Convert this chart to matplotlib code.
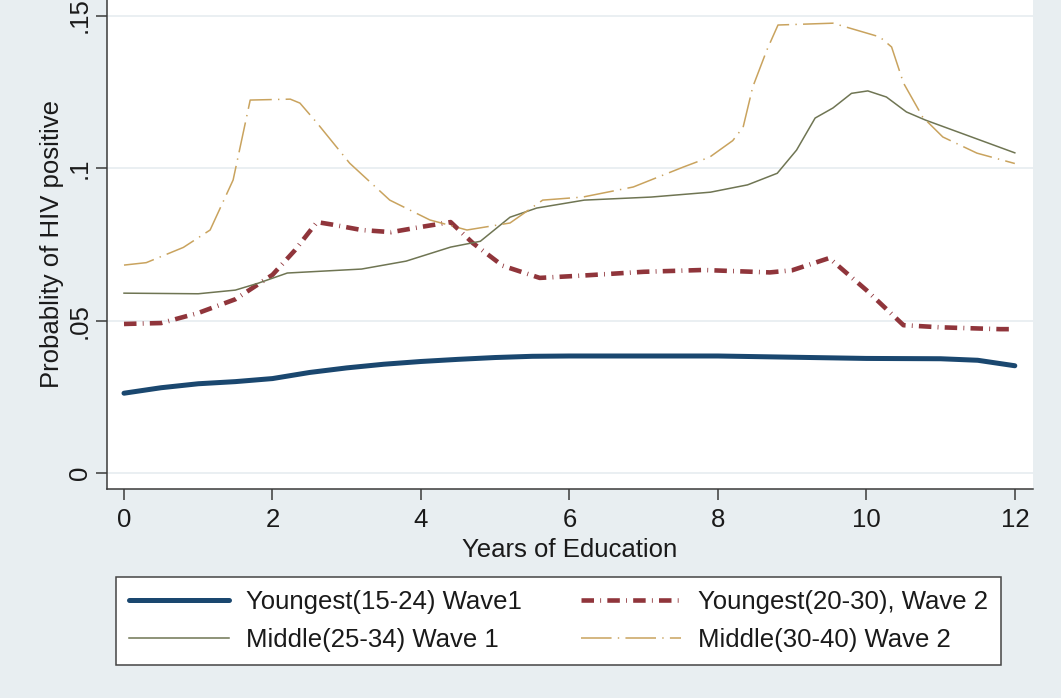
import matplotlib
matplotlib.use("Agg")
import matplotlib.pyplot as plt

plt.rcParams['font.family'] = ['Liberation Sans', 'DejaVu Sans']
plt.rcParams['lines.scale_dashes'] = False

# smoothed predicted probabilities by years of education
educ_w1_young = [0, 0.5, 1, 1.5, 2, 2.5, 3, 3.5, 4, 4.5, 5, 5.5, 6, 7, 8, 9, 10, 11, 11.5, 12]
p_w1_young = [.0262, .0280, .0293, .0300, .0310, .0330, .0345, .0357, .0366, .0373,
              .0379, .0383, .0384, .0384, .0384, .0380, .0376, .0375, .0370, .0352]

educ_w2_young = [0, 0.5, 1, 1.5, 2, 2.3, 2.6, 2.8, 3.2, 3.6, 4.0, 4.4, 4.7, 5.1, 5.6, 6.2,
                 7.0, 7.8, 8.7, 9.0, 9.5, 10.0, 10.5, 11.0, 11.8, 12]
p_w2_young = [.0489, .0492, .0525, .0570, .0650, .0730, .0823, .0815, .0797, .0790, .0807,
              .0823, .0754, .0680, .0640, .0648, .0660, .0666, .0658, .0665, .0705, .0600,
              .0485, .0478, .0472, .0472]

educ_w1_mid = [0, 1, 1.5, 1.8, 2.2, 3.2, 3.8, 4.4, 4.8, 5.2, 5.56, 6.2, 7.1, 7.9, 8.4, 8.8,
               9.06, 9.31, 9.55, 9.8, 10.02, 10.27, 10.54, 10.8, 11.35, 12]
p_w1_mid = [.0590, .0588, .0600, .0622, .0656, .0669, .0695, .0741, .0760, .0839, .0869,
            .0895, .0905, .0921, .0945, .0983, .1059, .1164, .1197, .1245, .1253, .1233,
            .1184, .1157, .1108, .1050]

educ_w2_mid = [0, 0.3, 0.8, 1.16, 1.47, 1.7, 2.24, 2.37, 2.6, 3.04, 3.58, 4.12, 4.62, 5.2,
               5.64, 6.18, 6.86, 7.53, 7.89, 8.2, 8.34, 8.47, 8.66, 8.81, 9.55, 10.18, 10.34,
               10.5, 10.76, 11.03, 11.49, 12]
p_w2_mid = [.0682, .0690, .0740, .0797, .0961, .1223, .1226, .1213, .1148, .1016, .0895,
            .0830, .0797, .0820, .0895, .0905, .0938, .1003, .1036, .1090, .1134, .1266,
            .1387, .1469, .1475, .1430, .1397, .1279, .1167, .1102, .1049, .1015]

labels = ['Youngest(15-24) Wave1', 'Youngest(20-30), Wave 2',
          'Middle(25-34) Wave 1', 'Middle(30-40) Wave 2']

bg = '#e8eef1'
fs = 18.5
fig = plt.figure(figsize=(10.61, 6.98), dpi=100, facecolor=bg)
ax = fig.add_axes([107 / 1061, 1 - 489 / 698, 926 / 1061, 489 / 698])
ax.set_facecolor('white')

l1, = ax.plot(educ_w1_young, p_w1_young, color='#1a476f', lw=3.6,
              solid_capstyle='round')
l2, = ax.plot(educ_w2_young, p_w2_young, color='#90353b', lw=3.3,
              linestyle=(0, (9, 4.5, 0.6, 4.5)), dash_capstyle='butt')
l3, = ax.plot(educ_w1_mid, p_w1_mid, color='#6f7553', lw=1.1)
l4, = ax.plot(educ_w2_mid, p_w2_mid, color='#c9a35e', lw=1.1,
              linestyle=(0, (22, 4.5, 1, 4.5)))

ax.set_xlim(-0.229, 12.245)
ax.set_ylim(-0.0052, 0.1551)
ax.set_xticks(range(0, 13, 2))
ax.set_yticks([0, .05, .1, .15])
ax.set_yticklabels(['0', '.05', '.1', '.15'], rotation=90, va='center')
ax.grid(axis='y', color='#e8eef1', lw=1.3)
ax.set_axisbelow(True)

for side in ['top', 'right']:
    ax.spines[side].set_visible(False)
for side in ['left', 'bottom']:
    ax.spines[side].set_color('#3a3a3a')
    ax.spines[side].set_linewidth(1.1)
ax.tick_params(direction='out', length=8, width=1.1, color='#3a3a3a',
               labelsize=fs, labelcolor='#1a1a1a', pad=6)
ax.tick_params(axis='y', pad=3)

ax.set_xlabel('Years of Education', fontsize=fs, color='#1a1a1a', labelpad=4)
ax.set_ylabel('Probablity of HIV positive', fontsize=fs, color='#1a1a1a', labelpad=3)

# legend is filled column by column, so order handles to read row-wise
leg = fig.legend([l1, l3, l2, l4], [labels[0], labels[2], labels[1], labels[3]],
                 ncol=2, loc='upper left',
                 bbox_to_anchor=(116 / 1061, 1 - 577 / 698), fontsize=fs,
                 frameon=True, fancybox=False, edgecolor='#444444',
                 facecolor='white', framealpha=1, handlelength=3.9,
                 handletextpad=0.66, columnspacing=2.3, labelspacing=0.55,
                 borderpad=0.5, borderaxespad=0)
leg.get_frame().set_linewidth(1.1)
for t in leg.get_texts():
    t.set_color('#1a1a1a')

fig.savefig('out.png', dpi=100, facecolor=bg)
